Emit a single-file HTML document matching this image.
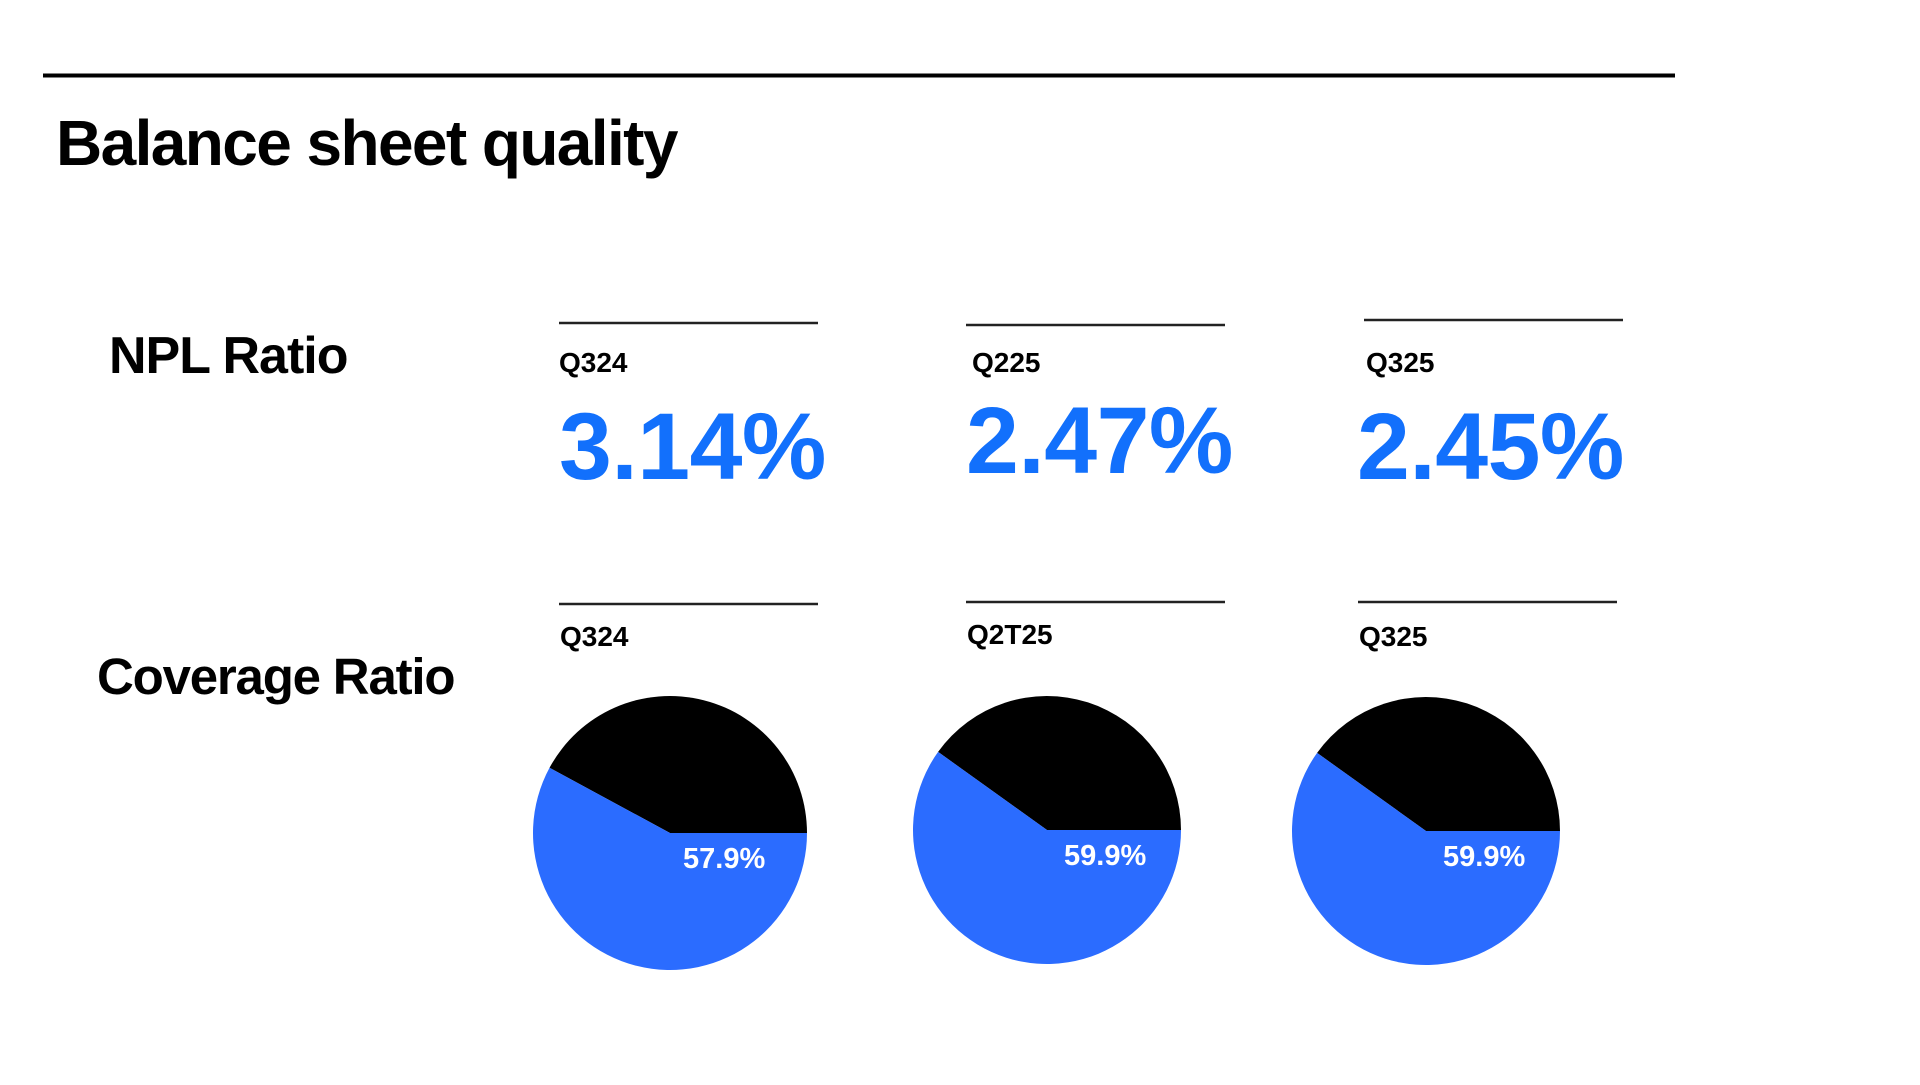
<!DOCTYPE html>
<html><head><meta charset="utf-8"><style>
html,body{margin:0;padding:0;background:#fff;}
body{width:1920px;height:1080px;position:relative;overflow:hidden;font-family:"Liberation Sans",sans-serif;}
</style></head><body>
<svg width="1920" height="1080" viewBox="0 0 1920 1080" xmlns="http://www.w3.org/2000/svg" id="chart" font-family="Liberation Sans, sans-serif" font-weight="bold">
<line x1="43" y1="75.5" x2="1675" y2="75.5" stroke="#000" stroke-width="4"/>
<text x="56" y="165" font-size="64" fill="#000" letter-spacing="-1.6">Balance sheet quality</text>
<text x="109" y="373" font-size="52" fill="#000" letter-spacing="-1">NPL Ratio</text>
<text x="97" y="694" font-size="51" fill="#000" letter-spacing="-1.2">Coverage Ratio</text>
<g id="npl"></g>
<g id="cov"></g>
</svg>
<script>
const nplPeriods = ["Q324","Q225","Q325"];
const nplValues = [3.14, 2.47, 2.45];
const covPeriods = ["Q324","Q2T25","Q325"];
const covValues = [57.9, 59.9, 59.9];

const NS="http://www.w3.org/2000/svg";
function mk(tag, attrs, parent){const e=document.createElementNS(NS,tag);for(const k in attrs)e.setAttribute(k,attrs[k]);parent.appendChild(e);return e;}
const npl=document.getElementById('npl');
const cov=document.getElementById('cov');
const nplX=[559,966,1364], nplLineY=[323,325,320], nplLabelX=[559,972,1366], nplValY=[479,473,479], nplValX=[559,966,1357];
nplPeriods.forEach((p,i)=>{
  const l=mk('line',{x1:nplX[i],x2:nplX[i]+259,y1:nplLineY[i],y2:nplLineY[i],stroke:'#222','stroke-width':2.5},npl);
  
  
  const t=mk('text',{x:nplLabelX[i],y:372,'font-size':28,fill:'#000'},npl);t.textContent=p;
  
  
  const v=mk('text',{x:nplValX[i],y:nplValY[i],'font-size':95,fill:'#1270fc','letter-spacing':-0.5},npl);v.textContent=nplValues[i].toFixed(2)+'%';
  
  
});
const covX=[559,966,1358], covLineY=[604,602,602], covLabelY=[646,644,646];
const cx=[670,1047,1426], cy=[833,830,831], rr=[137,134,134];
covPeriods.forEach((p,i)=>{
  const l=mk('line',{x1:covX[i],x2:covX[i]+259,y1:covLineY[i],y2:covLineY[i],stroke:'#222','stroke-width':2.5},cov);
  
  
  const t=mk('text',{x:covX[i]+1,y:covLabelY[i],'font-size':28,fill:'#000'},cov);t.textContent=p;
  
  
  const r=rr[i], blackFrac=(100-covValues[i])/100, a=blackFrac*2*Math.PI;
  const ex=cx[i]+r*Math.cos(a), ey=cy[i]-r*Math.sin(a);
  const large=blackFrac>0.5?1:0;
  const b=mk('path',{d:`M${cx[i]},${cy[i]} L${cx[i]+r},${cy[i]} A${r},${r} 0 ${large} 0 ${ex},${ey} Z`,fill:'#000'},cov);
  
  
  const bl=mk('path',{d:`M${cx[i]},${cy[i]} L${ex},${ey} A${r},${r} 0 ${1-large} 0 ${cx[i]+r},${cy[i]} Z`,fill:'#2b6cff'},cov);
  
  
  const lt=mk('text',{x:cx[i]+13+(i==0?0:4),y:cy[i]+35,'font-size':29,fill:'#fff'},cov);lt.textContent=covValues[i].toFixed(1)+'%';
  
  
});
</script>
</body></html>
